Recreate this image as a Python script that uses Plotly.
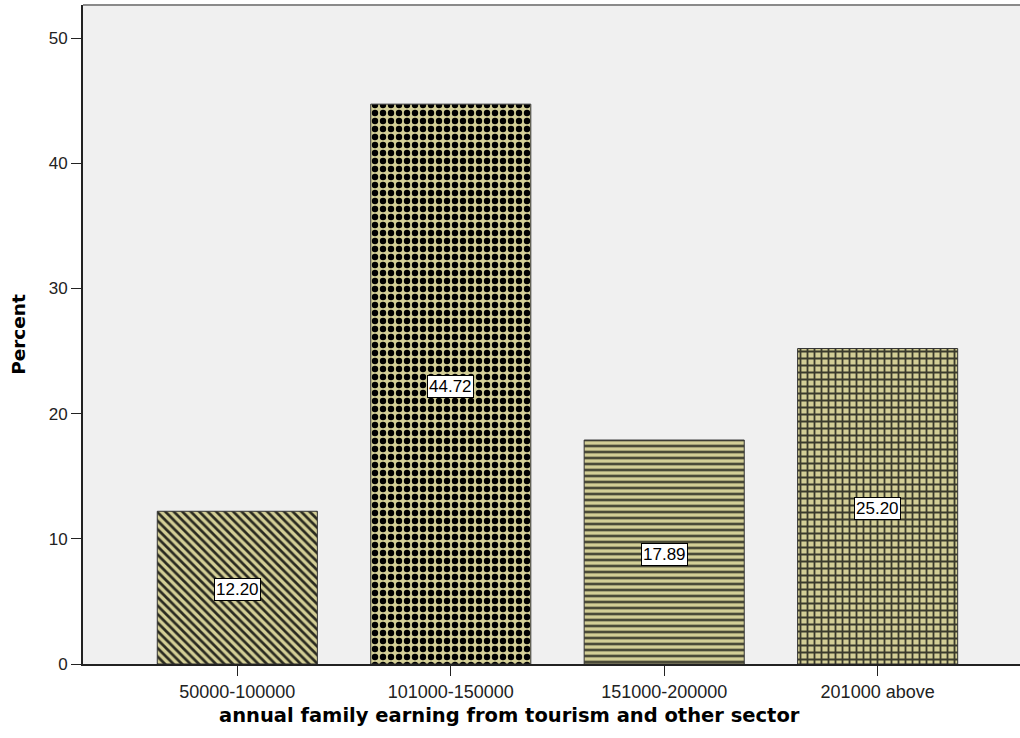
import plotly.graph_objects as go

categories = ["50000-100000", "101000-150000", "151000-200000", "201000 above"]
percents = [12.20, 44.72, 17.89, 25.20]
y_ticks = [0, 10, 20, 30, 40, 50]

tan = "#D3CE96"
patterns = [
    dict(shape="\\", size=6, solidity=0.45, fgcolor="#2a2a20", bgcolor=tan, fillmode="replace"),
    dict(shape=".", size=8, solidity=0.5, fgcolor="#000000", bgcolor=tan, fillmode="replace"),
    dict(shape="-", size=6, solidity=0.45, fgcolor="#4a4a38", bgcolor=tan, fillmode="replace"),
    dict(shape="+", size=7, solidity=0.45, fgcolor="#3a3a2c", bgcolor=tan, fillmode="replace"),
]

fig = go.Figure()
for i, (c, v) in enumerate(zip(categories, percents)):
    fig.add_trace(go.Bar(
        x=[c], y=[v], width=0.75,
        marker=dict(color=tan, pattern=patterns[i],
                    line=dict(color="#333333", width=1)),
        showlegend=False, hoverinfo="skip",
    ))
    fig.add_annotation(
        x=c, y=v / 2, text=f"{v:.2f}", showarrow=False,
        font=dict(family="Liberation Sans, Arial, sans-serif", size=17, color="#000"),
        bgcolor="#ffffff", bordercolor="#000000", borderwidth=1, borderpad=1,
        yshift=-2,
    )

fig.add_shape(type="line", xref="paper", yref="paper", x0=0, x1=1, y0=1, y1=1,
              line=dict(color="#8a8a8a", width=2))

# x-axis title, centred on the page rather than the plot area
fig.add_annotation(
    xref="paper", yref="paper", x=0.4557, y=0, yshift=-51, yanchor="middle",
    text="<b>annual family earning from tourism and other sector</b>", showarrow=False,
    font=dict(family="DejaVu Sans, Verdana, sans-serif", size=19.5, color="#000"),
)

fig.update_layout(
    width=1020, height=738,
    margin=dict(l=83, r=0, t=5, b=74),
    paper_bgcolor="#ffffff", plot_bgcolor="#F0F0F0",
    bargap=0.25,
    xaxis=dict(
        type="category", range=[-0.723, 3.667],
        showline=True, linecolor="#222222", linewidth=2,
        ticks="outside", ticklen=10, tickcolor="#222222", tickwidth=1,
        tickfont=dict(family="Liberation Sans, Arial, sans-serif", size=18, color="#222"),
        showgrid=False,
    ),
    yaxis=dict(
        range=[0, 52.64], tickvals=y_ticks,
        showline=True, linecolor="#222222", linewidth=2,
        ticks="outside", ticklen=10, tickcolor="#222222", tickwidth=1,
        tickfont=dict(family="Liberation Sans, Arial, sans-serif", size=17, color="#222"),
        showgrid=False, zeroline=False,
        title=dict(text="<b>Percent</b>",
                   font=dict(family="DejaVu Sans, Verdana, sans-serif", size=18.5, color="#000"),
                   standoff=18),
    ),
)

fig.write_html("out.html")
